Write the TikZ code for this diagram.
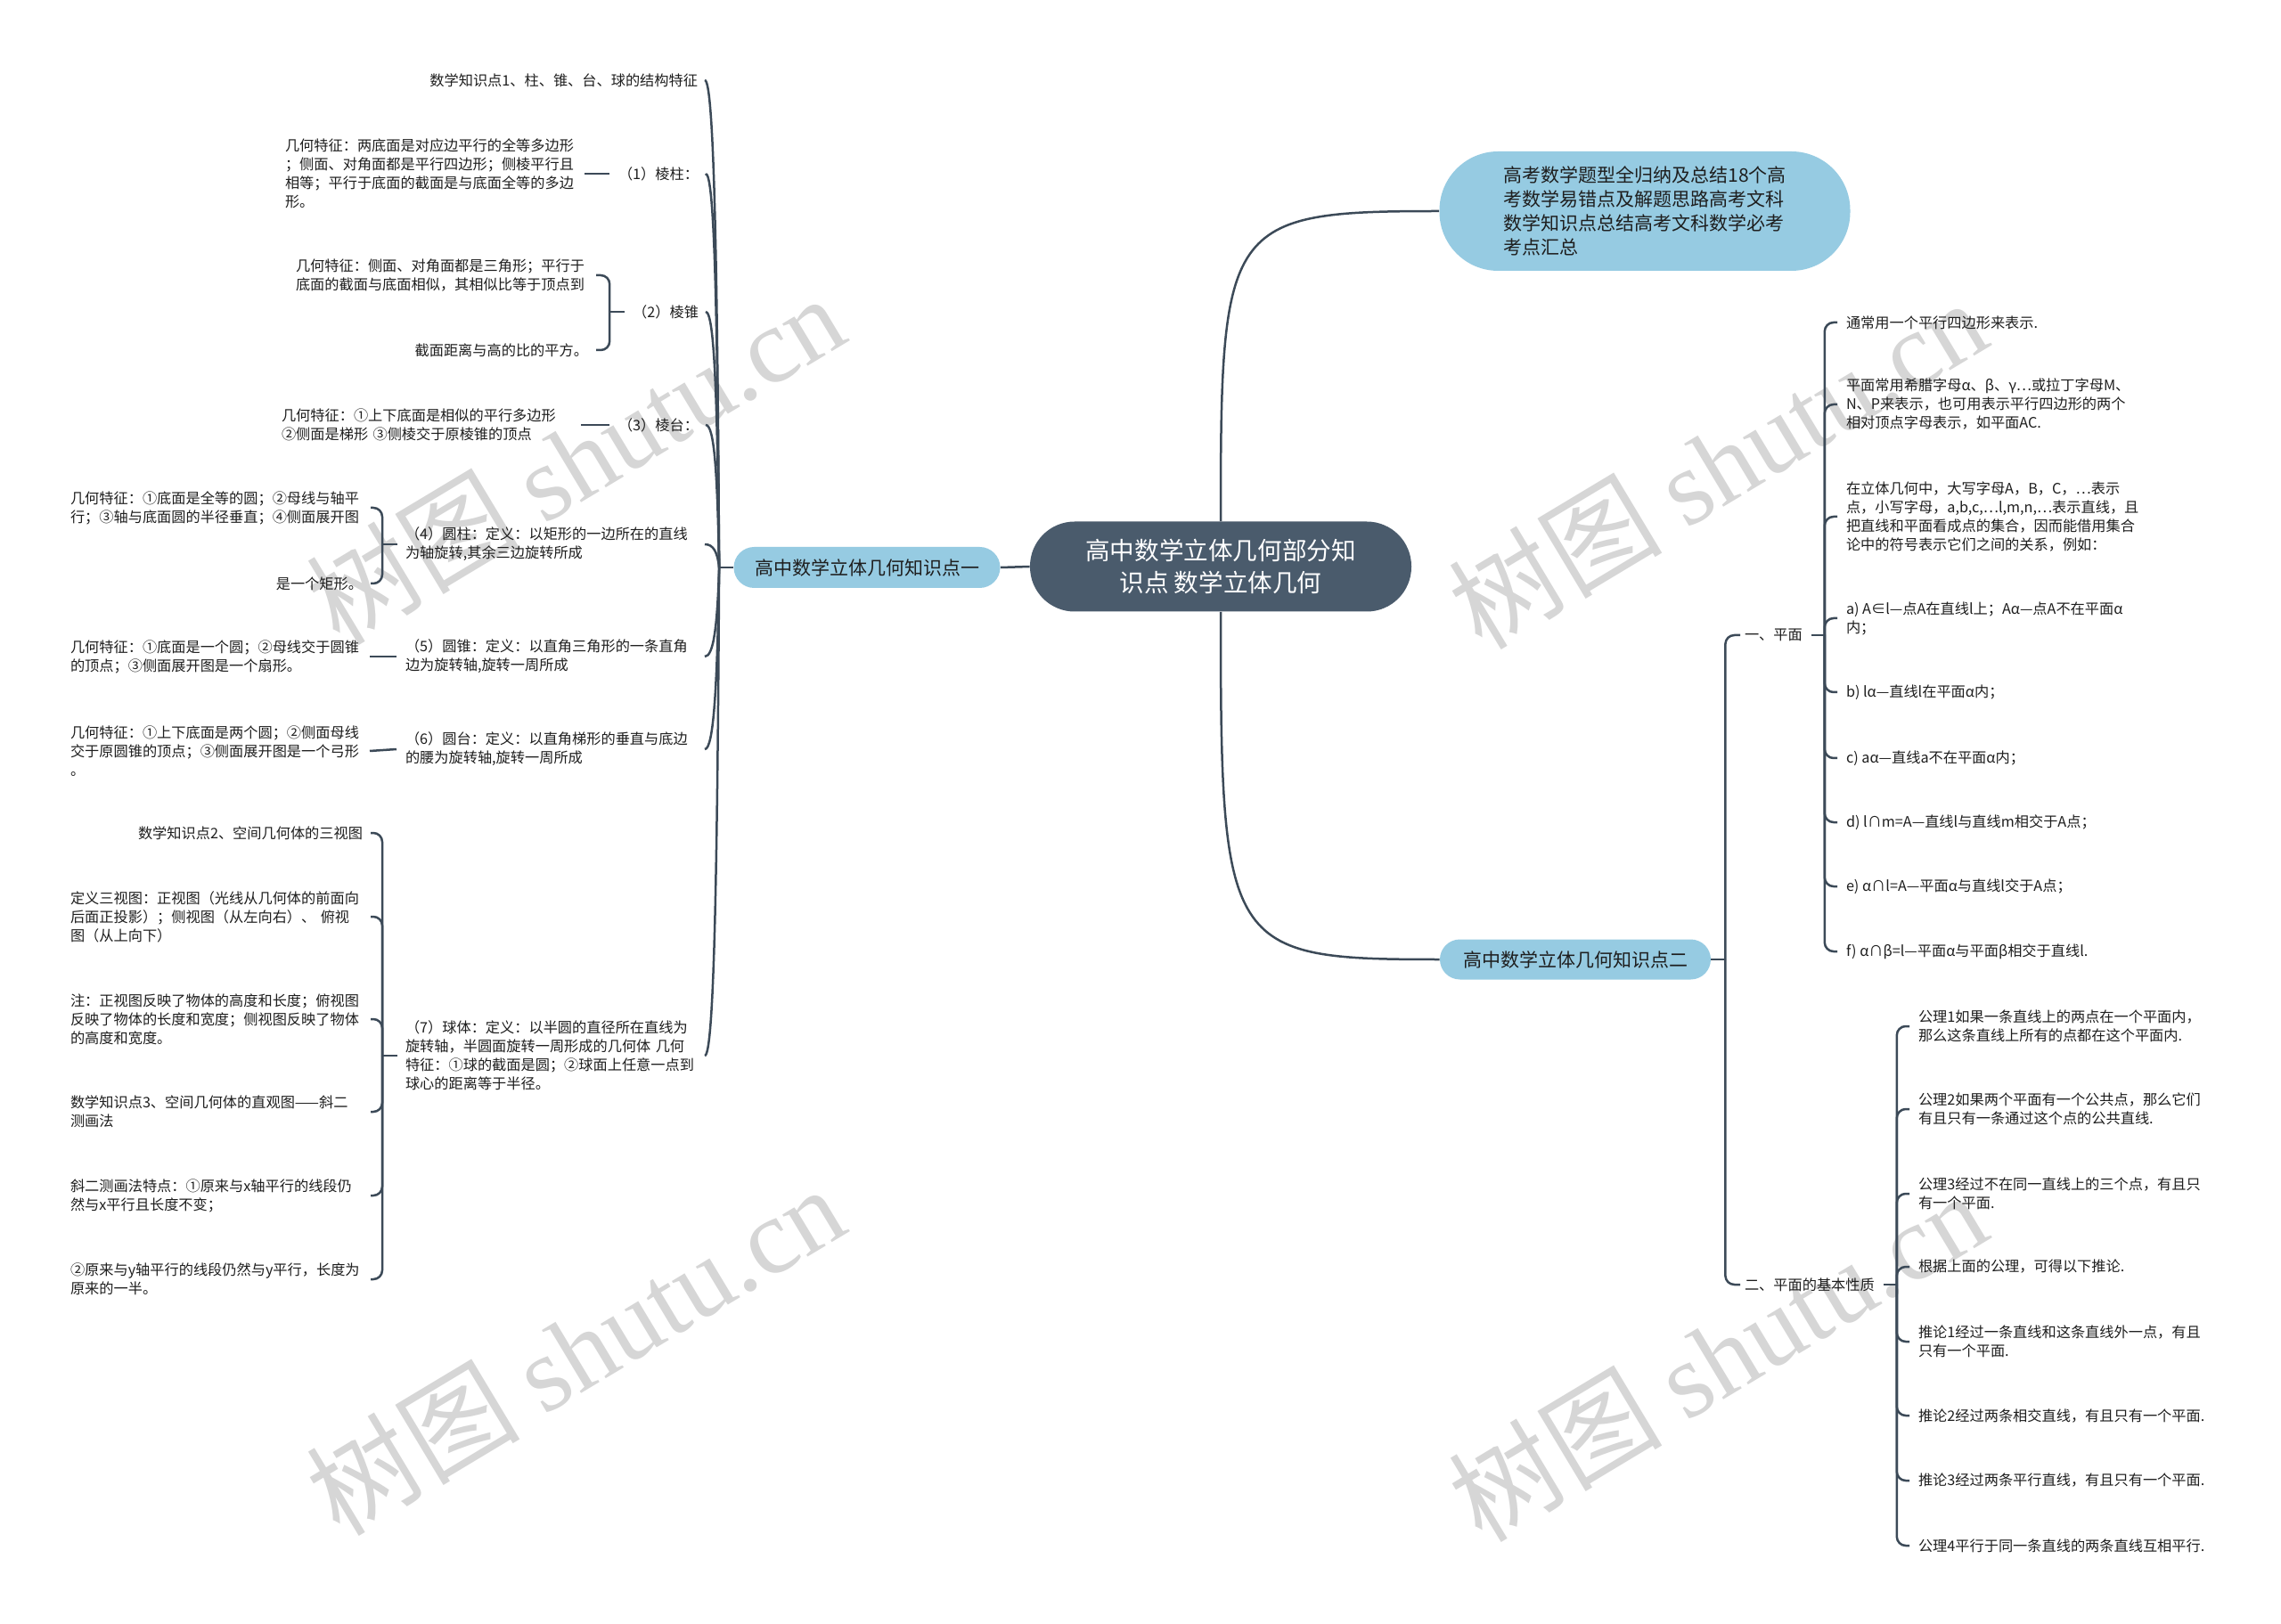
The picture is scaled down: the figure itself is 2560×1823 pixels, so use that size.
\documentclass[tikz,border=0pt]{standalone}
\usepackage{fontspec}
\setmainfont{Noto Sans CJK SC}
\newfontfamily\wmserif{Liberation Serif}
\usetikzlibrary{calc}
\definecolor{rootc}{RGB}{74,91,108}
\definecolor{bluec}{RGB}{150,203,226}
\definecolor{linec}{RGB}{60,74,88}
\definecolor{txtc}{RGB}{30,30,30}
\definecolor{wmc}{RGB}{214,214,214}
% curved branch from hub (#1) to child (#2) lying on the left
\newcommand\mmCurve[2]{\draw[conn] let \p1=($(#2.east)+(8,0)$), \p2=(#1), \p3=(\x2-1pt,{\y1+0.35*(\y2-\y1)}) in (\p1) .. controls (\x1+5pt,\y1) and (\p3) .. (\p2);}
\newcommand\mmStubL[1]{\draw[conn] ($(#1.west)+(-9,0)$) -- ($(#1.west)+(-26,0)$);}
\newcommand\mmBrL[2]{\draw[conn,rounded corners=5pt] ($(#1.west)+(-26,0)$) |- ($(#2.east)+(9,0)$);}
\newcommand\mmLineL[2]{\draw[conn] ($(#2.east)+(8,0)$) -- ($(#1.west)+(-10,0)$);}
\newcommand\mmStubR[1]{\draw[conn] ($(#1.east)+(10,0)$) -- ($(#1.east)+(25,0)$);}
\newcommand\mmBrR[2]{\draw[conn,rounded corners=5pt] ($(#1.east)+(25,0)$) |- ($(#2.west)+(-10,0)$);}
\begin{document}
\begin{tikzpicture}[x=0.5pt,y=-0.5pt,
 txt/.style={inner sep=0pt,outer sep=0pt,text=txtc,font=\fontsize{8.1}{10.5}\selectfont,align=left},
 lbox/.style={txt,text width=164pt},
 conn/.style={draw=linec,line width=1.25pt},
 rootbox/.style={fill=rootc,text=white,font=\fontsize{13.8}{18}\selectfont,align=center,rounded corners=25pt,minimum width=214pt,minimum height=50.5pt,inner sep=0pt},
 bluebox/.style={fill=bluec,text=txtc,font=\fontsize{10.5}{13.5}\selectfont,inner sep=0pt},
 wm/.style={text=wmc,font=\fontsize{60}{60}\selectfont,inner sep=0pt,rotate=31}]

\fill[white] (0,0) rectangle (2560,1823);
\useasboundingbox (0,0) rectangle (2560,1823);

% watermarks
\node[wm] (wm1) at (645,515) {树图 {\wmserif shutu.cn}};
\node[wm] (wm2) at (1927,520) {树图 {\wmserif shutu.cn}};
\node[wm] (wm3) at (645,1515) {树图 {\wmserif shutu.cn}};
\node[wm] (wm4) at (1927,1522) {树图 {\wmserif shutu.cn}};

% main nodes
\node[rootbox] (root) at (1370,636) {高中数学立体几何部分知\\识点 数学立体几何};
\node[bluebox,rounded corners=11.5pt,minimum width=149.5pt,minimum height=23pt] (nA) at (973,637) {高中数学立体几何知识点一};
\node[bluebox,rounded corners=33pt,minimum width=230.5pt,minimum height=67pt,align=left] (nB) at (1846,237) {高考数学题型全归纳及总结18个高\\考数学易错点及解题思路高考文科\\数学知识点总结高考文科数学必考\\考点汇总};
\node[bluebox,rounded corners=11.25pt,minimum width=152pt,minimum height=22.5pt] (nC) at (1768,1077) {高中数学立体几何知识点二};

% left branch
\node[txt,anchor=east] (n1) at (783,90) {数学知识点1、柱、锥、台、球的结构特征};
\node[txt,anchor=east] (n2) at (784,195) {（1）棱柱：};
\node[lbox,anchor=west] (n2a) at (320,195) {几何特征：两底面是对应边平行的全等多边形\\；侧面、对角面都是平行四边形；侧棱平行且\\相等；平行于底面的截面是与底面全等的多边\\形。};
\node[txt,anchor=east] (n3) at (784,350) {（2）棱锥};
\node[lbox,anchor=west] (n3a) at (332,309) {几何特征：侧面、对角面都是三角形；平行于\\底面的截面与底面相似，其相似比等于顶点到};
\node[txt,anchor=east] (n3b) at (660,393) {截面距离与高的比的平方。};
\node[txt,anchor=east] (n4) at (784,477) {（3）棱台：};
\node[lbox,anchor=west] (n4a) at (316,477) {几何特征：①上下底面是相似的平行多边形\\②侧面是梯形 ③侧棱交于原棱锥的顶点};
\node[lbox,anchor=west] (n5) at (455,611) {（4）圆柱：定义：以矩形的一边所在的直线\\为轴旋转,其余三边旋转所成};
\node[lbox,anchor=west] (n5a) at (79,570) {几何特征：①底面是全等的圆；②母线与轴平\\行；③轴与底面圆的半径垂直；④侧面展开图};
\node[txt,anchor=east] (n5b) at (407,655) {是一个矩形。};
\node[lbox,anchor=west] (n6) at (455,737) {（5）圆锥：定义：以直角三角形的一条直角\\边为旋转轴,旋转一周所成};
\node[lbox,anchor=west] (n6a) at (79,737) {几何特征：①底面是一个圆；②母线交于圆锥\\的顶点；③侧面展开图是一个扇形。};
\node[lbox,anchor=west] (n7) at (455,841) {（6）圆台：定义：以直角梯形的垂直与底边\\的腰为旋转轴,旋转一周所成};
\node[lbox,anchor=west] (n7a) at (79,843) {几何特征：①上下底面是两个圆；②侧面母线\\交于原圆锥的顶点；③侧面展开图是一个弓形\\。};
\node[lbox,anchor=west] (n8) at (455,1185) {（7）球体：定义：以半圆的直径所在直线为\\旋转轴，半圆面旋转一周形成的几何体 几何\\特征：①球的截面是圆；②球面上任意一点到\\球心的距离等于半径。};
\node[txt,anchor=east] (n8a) at (407,935) {数学知识点2、空间几何体的三视图};
\node[lbox,anchor=west] (n8b) at (79,1029) {定义三视图：正视图（光线从几何体的前面向\\后面正投影）；侧视图（从左向右）、 俯视\\图（从上向下）};
\node[lbox,anchor=west] (n8c) at (79,1144) {注：正视图反映了物体的高度和长度；俯视图\\反映了物体的长度和宽度；侧视图反映了物体\\的高度和宽度。};
\node[lbox,anchor=west] (n8d) at (79,1248) {数学知识点3、空间几何体的直观图——斜二\\测画法};
\node[lbox,anchor=west] (n8e) at (79,1342) {斜二测画法特点：①原来与x轴平行的线段仍\\然与x平行且长度不变；};
\node[lbox,anchor=west] (n8f) at (79,1436) {②原来与y轴平行的线段仍然与y平行，长度为\\原来的一半。};

% right branch
\node[txt,anchor=west] (r1) at (1958,713) {一、平面};
\node[txt,anchor=west] (r1a) at (2072,362) {通常用一个平行四边形来表示.};
\node[txt,anchor=west] (r1b) at (2072,454) {平面常用希腊字母α、β、γ…或拉丁字母M、\\N、P来表示，也可用表示平行四边形的两个\\相对顶点字母表示，如平面AC.};
\node[txt,anchor=west] (r1c) at (2072,580) {在立体几何中，大写字母A，B，C，…表示\\点，小写字母，a,b,c,…l,m,n,…表示直线，且\\把直线和平面看成点的集合，因而能借用集合\\论中的符号表示它们之间的关系，例如：};
\node[txt,anchor=west] (r1d) at (2072,694) {a) A∈l—点A在直线l上；Aα—点A不在平面α\\内；};
\node[txt,anchor=west] (r1e) at (2072,777) {b) lα—直线l在平面α内；};
\node[txt,anchor=west] (r1f) at (2072,851) {c) aα—直线a不在平面α内；};
\node[txt,anchor=west] (r1g) at (2072,923) {d) l∩m=A—直线l与直线m相交于A点；};
\node[txt,anchor=west] (r1h) at (2072,995) {e) α∩l=A—平面α与直线l交于A点；};
\node[txt,anchor=west] (r1i) at (2072,1068) {f) α∩β=l—平面α与平面β相交于直线l.};
\node[txt,anchor=west] (r2) at (1958,1442) {二、平面的基本性质};
\node[txt,anchor=west] (r2a) at (2153,1152) {公理1如果一条直线上的两点在一个平面内，\\那么这条直线上所有的点都在这个平面内.};
\node[txt,anchor=west] (r2b) at (2153,1245) {公理2如果两个平面有一个公共点，那么它们\\有且只有一条通过这个点的公共直线.};
\node[txt,anchor=west] (r2c) at (2153,1340) {公理3经过不在同一直线上的三个点，有且只\\有一个平面.};
\node[txt,anchor=west] (r2d) at (2153,1422) {根据上面的公理，可得以下推论.};
\node[txt,anchor=west] (r2e) at (2153,1506) {推论1经过一条直线和这条直线外一点，有且\\只有一个平面.};
\node[txt,anchor=west] (r2f) at (2153,1589) {推论2经过两条相交直线，有且只有一个平面.};
\node[txt,anchor=west] (r2g) at (2153,1662) {推论3经过两条平行直线，有且只有一个平面.};
\node[txt,anchor=west] (r2h) at (2153,1735) {公理4平行于同一条直线的两条直线互相平行.};

% connectors from root
\draw[conn] (root.west) -- (nA.east);
\draw[conn] (root.north) .. controls ($(root.north)+(0,-335)$) and ($(nB.west)+(-240,0)$) .. (nB.west);
\draw[conn] (root.south) .. controls ($(root.south)+(0,380)$) and ($(nC.west)+(-240,0)$) .. (nC.west);

% left level 1
\coordinate (hubA) at ($(nA.west)+(-16,0)$);
\draw[conn] (nA.west) -- (hubA);
\mmCurve{hubA}{n1}
\mmCurve{hubA}{n2}
\mmCurve{hubA}{n3}
\mmCurve{hubA}{n4}
\mmCurve{hubA}{n5}
\mmCurve{hubA}{n6}
\mmCurve{hubA}{n7}
\mmCurve{hubA}{n8}

% left level 2
\mmLineL{n2}{n2a}
\mmStubL{n3}
\mmBrL{n3}{n3a}
\mmBrL{n3}{n3b}
\mmLineL{n4}{n4a}
\mmStubL{n5}
\mmBrL{n5}{n5a}
\mmBrL{n5}{n5b}
\mmLineL{n6}{n6a}
\mmLineL{n7}{n7a}
\mmStubL{n8}
\mmBrL{n8}{n8a}
\mmBrL{n8}{n8b}
\mmBrL{n8}{n8c}
\mmBrL{n8}{n8d}
\mmBrL{n8}{n8e}
\mmBrL{n8}{n8f}

% right side
\coordinate (hubC) at ($(nC.east)+(16,0)$);
\draw[conn] (nC.east) -- (hubC);
\draw[conn,rounded corners=5pt] (hubC) |- ($(r1.west)+(-5,0)$);
\draw[conn,rounded corners=5pt] (hubC) |- ($(r2.west)+(-5,0)$);
\mmStubR{r1}
\mmBrR{r1}{r1a}
\mmBrR{r1}{r1b}
\mmBrR{r1}{r1c}
\mmBrR{r1}{r1d}
\mmBrR{r1}{r1e}
\mmBrR{r1}{r1f}
\mmBrR{r1}{r1g}
\mmBrR{r1}{r1h}
\mmBrR{r1}{r1i}
\mmStubR{r2}
\mmBrR{r2}{r2a}
\mmBrR{r2}{r2b}
\mmBrR{r2}{r2c}
\mmBrR{r2}{r2d}
\mmBrR{r2}{r2e}
\mmBrR{r2}{r2f}
\mmBrR{r2}{r2g}
\mmBrR{r2}{r2h}
\end{tikzpicture}
\end{document}
